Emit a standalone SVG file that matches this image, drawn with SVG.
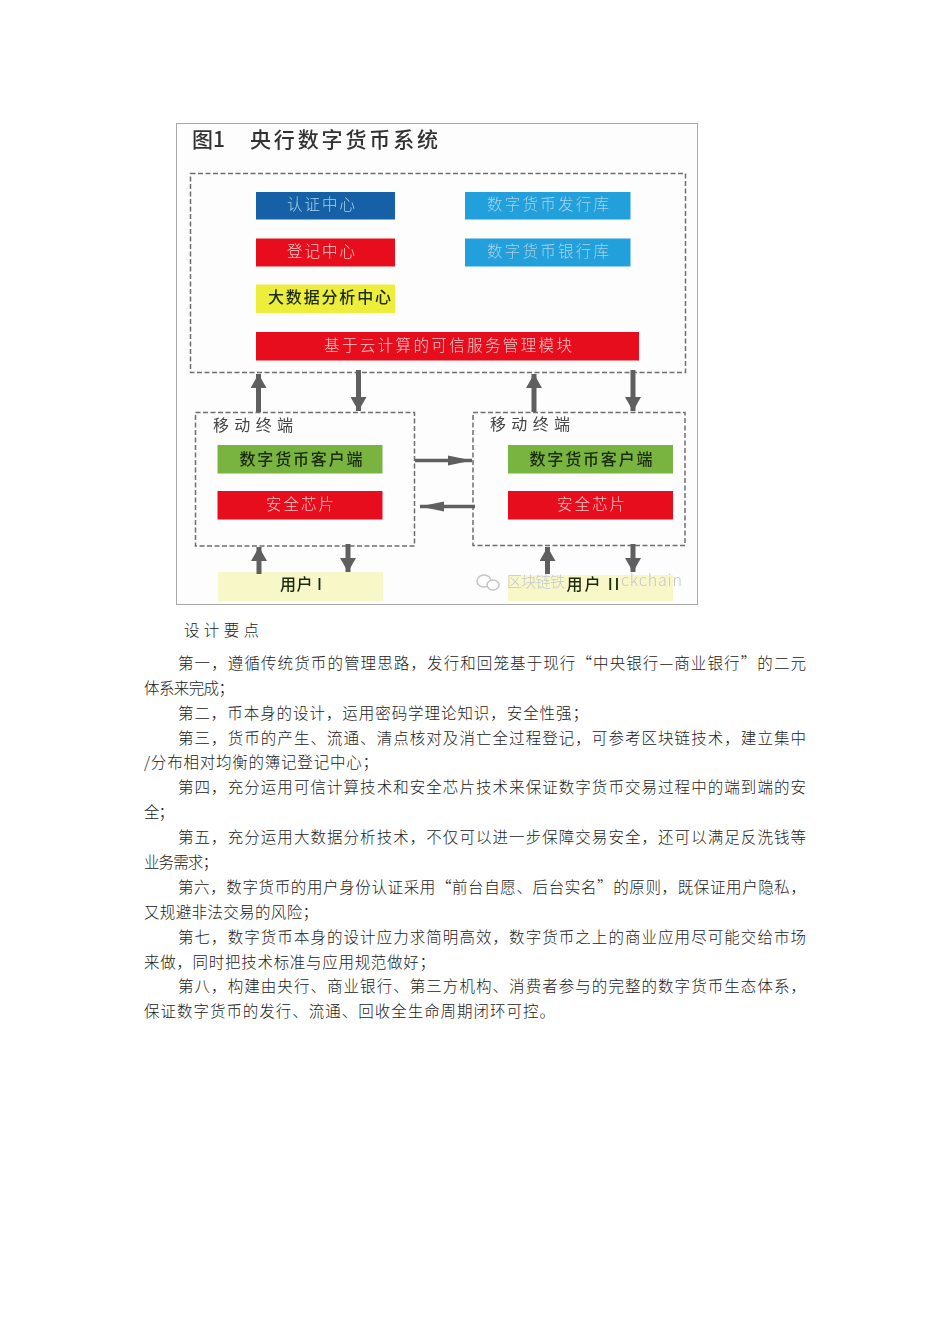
<svg xmlns="http://www.w3.org/2000/svg" width="950" height="1344" viewBox="0 0 950 1344">
<style>
text{font-family:"Noto Sans CJK SC","Noto Sans CJK JP",sans-serif}
.dash{fill:none;stroke:#6e6e6e;stroke-width:1.5;stroke-dasharray:5 2.5}
.lbl{font-size:15.5px;text-anchor:middle;fill:#f3c8c8;font-weight:300}
.dk{font-size:16px;text-anchor:middle;fill:#1a2a10;font-weight:500}
.cy{font-size:15.5px;text-anchor:middle;fill:#a9d2e6;font-weight:300}
.term{font-size:16px;fill:#444;font-weight:400}
.p{font-size:15.5px;fill:#222;font-weight:300}
.ar{fill:none;stroke:#5f5f5f;stroke-width:5;marker-end:url(#ah)}
.arh{fill:none;stroke:#5f5f5f;stroke-width:3.5;marker-end:url(#ahh)}
.red{fill:#e8101c}.blue{fill:#1560a8}.cyan{fill:#24a0dc}.yel{fill:#eded3a}.grn{fill:#79b340}.usr{fill:#f7f7c8}
</style>
<defs>
<marker id="ah" markerUnits="userSpaceOnUse" markerWidth="18" markerHeight="16" refX="14" refY="8" orient="auto"><path d="M0 0L14 8L0 16Z" fill="#5f5f5f"/></marker>
<marker id="ahh" markerUnits="userSpaceOnUse" markerWidth="26" markerHeight="12" refX="24" refY="6" orient="auto"><path d="M0 1L24 6L0 11Z" fill="#5f5f5f"/></marker>
<filter id="soft" x="0" y="0" width="100%" height="100%"><feGaussianBlur stdDeviation="0.5"/></filter>
</defs>
<rect width="950" height="1344" fill="#fff"/>
<g filter="url(#soft)">
<rect id="frame" x="176.500" y="123.500" width="521" height="481" fill="#fdfdfe" stroke="#a8a8a8"/>
<text id="title" x="192" y="147" font-size="21" font-weight="500" fill="#333">图1</text>
<text id="title2" x="250" y="147" font-size="21" font-weight="500" fill="#333" textLength="188">央行数字货币系统</text>
<g id="center"><rect class="dash" x="190.500" y="173.500" width="495" height="199"/></g>
<g id="n-auth"><rect class="blue" x="256" y="192" width="139" height="27.500"/><text class="cy" x="321" y="210" textLength="68">认证中心</text></g>
<g id="n-reg"><rect class="red" x="256" y="238.500" width="139" height="28"/><text class="lbl" x="321" y="257" textLength="68">登记中心</text></g>
<g id="n-bigdata"><rect class="yel" x="256" y="284.500" width="139" height="28.500"/><text class="dk" x="329.500" y="303" textLength="123">大数据分析中心</text></g>
<g id="n-cloud"><rect class="red" x="256" y="332" width="383" height="28.500"/><text class="lbl" x="448" y="351" textLength="248">基于云计算的可信服务管理模块</text></g>
<g id="n-issue"><rect class="cyan" x="465" y="192" width="165.500" height="27.500"/><text class="cy" x="548" y="210" textLength="122">数字货币发行库</text></g>
<g id="n-bank"><rect class="cyan" x="465" y="238.500" width="165.500" height="28"/><text class="cy" x="548" y="257" textLength="122">数字货币银行库</text></g>
<g id="term1"><rect class="dash" x="195.500" y="412.500" width="219" height="133.500"/><text class="term" x="213" y="431" textLength="80">移动终端</text></g>
<g id="client1"><rect class="grn" x="217.500" y="445" width="165" height="28.500"/><text class="dk" x="301" y="465" textLength="123">数字货币客户端</text></g>
<g id="chip1"><rect class="red" x="217.500" y="491" width="165" height="28.500"/><text class="lbl" x="300" y="510" textLength="68">安全芯片</text></g>
<g id="term2"><rect class="dash" x="473" y="412.500" width="212" height="133"/><text class="term" x="490" y="430" textLength="80">移动终端</text></g>
<g id="client2"><rect class="grn" x="508" y="445" width="165" height="28.500"/><text class="dk" x="591" y="465" textLength="123">数字货币客户端</text></g>
<g id="chip2"><rect class="red" x="508" y="491" width="165" height="28.500"/><text class="lbl" x="591" y="510" textLength="68">安全芯片</text></g>
<g id="user1"><rect class="usr" x="218" y="572" width="165" height="29"/><text class="dk" x="301" y="590" textLength="42">用户 I</text></g>
<g id="user2"><rect class="usr" x="508" y="575" width="165" height="26"/></g>
<g id="connectors">
<path class="ar" d="M258.500 412V374"/>
<path class="ar" d="M358.500 370V411"/>
<path class="ar" d="M534 412V374"/>
<path class="ar" d="M633 370V411"/>
<path class="arh" d="M415 460.500H472"/>
<path class="arh" d="M475 506.500H420"/>
<path class="ar" d="M259 574V547"/>
<path class="ar" d="M348 544V572"/>
<path class="ar" d="M547.500 574V547"/>
<path class="ar" d="M633 544V572"/>
</g>
<g id="watermark">
<ellipse cx="484" cy="581" rx="7" ry="6" fill="none" stroke="#c4c4c4" stroke-width="1.500"/>
<ellipse cx="493" cy="585" rx="6" ry="5" fill="#fdfdfe" stroke="#c4c4c4" stroke-width="1.500"/>
<text x="507" y="587" font-size="15" fill="#c4c8cc" textLength="58" font-weight="300">区块链铁</text>
<text x="621" y="586" font-size="16" fill="#c4c8cc" textLength="61" font-weight="300">ckchain</text>
</g>
<text class="dk" x="593" y="590" textLength="53">用户 II</text>
</g>
<g id="body">
<text class="p" x="184" y="636" font-size="17" textLength="75">设计要点</text>
<text class="p" x="178" y="669" textLength="628">第一，遵循传统货币的管理思路，发行和回笼基于现行“中央银行—商业银行”的二元</text>
<text class="p" x="144" y="694" textLength="90">体系来完成；</text>
<text class="p" x="178" y="719" textLength="410">第二，币本身的设计，运用密码学理论知识，安全性强；</text>
<text class="p" x="178" y="744" textLength="628">第三，货币的产生、流通、清点核对及消亡全过程登记，可参考区块链技术，建立集中</text>
<text class="p" x="144" y="768" textLength="234">/分布相对均衡的簿记登记中心；</text>
<text class="p" x="178" y="793" textLength="628">第四，充分运用可信计算技术和安全芯片技术来保证数字货币交易过程中的端到端的安</text>
<text class="p" x="144" y="818" textLength="30">全；</text>
<text class="p" x="178" y="843" textLength="628">第五，充分运用大数据分析技术，不仅可以进一步保障交易安全，还可以满足反洗钱等</text>
<text class="p" x="144" y="868" textLength="74">业务需求；</text>
<text class="p" x="178" y="893" textLength="628">第六，数字货币的用户身份认证采用“前台自愿、后台实名”的原则，既保证用户隐私，</text>
<text class="p" x="144" y="918" textLength="174">又规避非法交易的风险；</text>
<text class="p" x="178" y="943" textLength="628">第七，数字货币本身的设计应力求简明高效，数字货币之上的商业应用尽可能交给市场</text>
<text class="p" x="144" y="968" textLength="291">来做，同时把技术标准与应用规范做好；</text>
<text class="p" x="178" y="992" textLength="628">第八，构建由央行、商业银行、第三方机构、消费者参与的完整的数字货币生态体系，</text>
<text class="p" x="144" y="1017" textLength="411">保证数字货币的发行、流通、回收全生命周期闭环可控。</text>
</g>
</svg>
